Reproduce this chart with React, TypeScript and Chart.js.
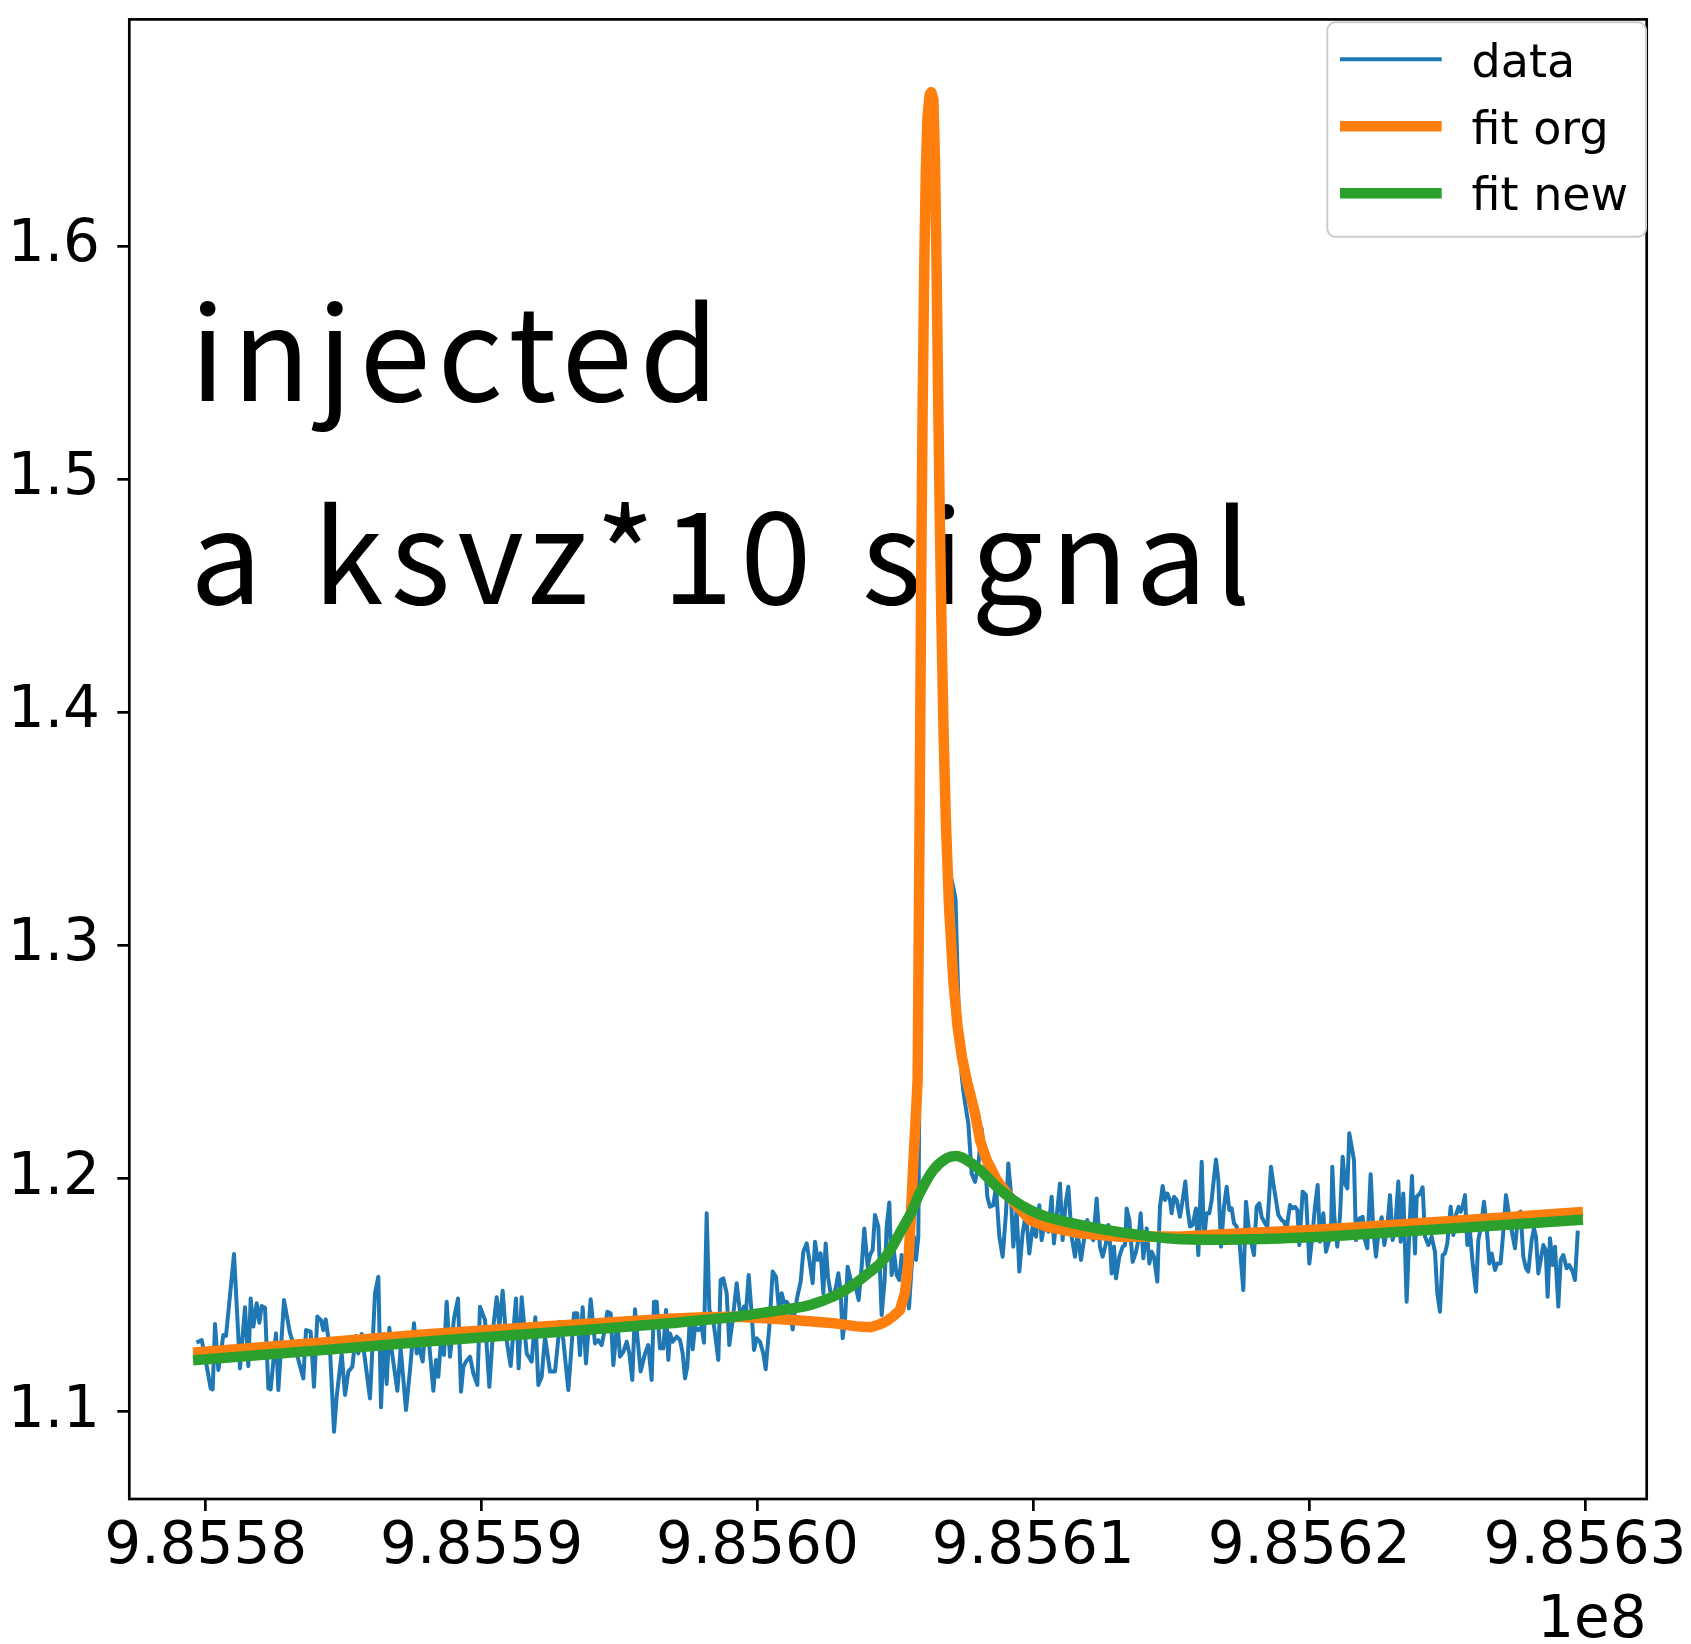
import React, { useEffect, useRef } from 'react';
import { Chart, registerables } from 'chart.js';

Chart.register(...registerables);

// frequency base (Hz); series x values are offsets from it
const F0 = 985580000;

const dataOffsetHz = [
  -270, -146, -25, 180, 253, 337, 458, 639, 736, 1026, 1243, 1425, 1546, 1630, 1727, 1848, 1944, 2029, 2150, 2271,
  2355, 2548, 2633, 2838, 3056, 3298, 3539, 3636, 3805, 3926, 4047, 4180, 4264, 4349, 4506, 4651, 4748, 4929, 5050, 5170,
  5315, 5436, 5533, 5654, 5956, 6137, 6258, 6355, 6464, 6560, 6657, 6741, 6947, 7068, 7261, 7406, 7551, 7648, 7744, 7865,
  7949, 8070,
  8131, 8252, 8348, 8433, 8554, 8638, 8735, 8856, 9001, 9146, 9255, 9339, 9436, 9581, 9702, 9847, 9943, 10125, 10282, 10427,
  10548, 10644, 10765, 10886, 11055, 11248, 11345, 11454, 11635, 11816, 11949, 12058, 12179, 12300, 12481, 12662, 12843, 12964, 13145, 13350,
  13471, 13568, 13665, 13786, 13955, 14112, 14233, 14354, 14438, 14559, 14680, 14777, 14922, 15018, 15139, 15260, 15357, 15465, 15562, 15647,
  15768, 15925, 16045, 16166, 16251, 16347, 16468, 16589, 16686, 16770,
  16831, 16928, 17073, 17193, 17290, 17375, 17459, 17556, 17653, 17737, 17858, 17979, 18063, 18160, 18257, 18377, 18462, 18583, 18667, 18764,
  18885, 18981, 19103, 19248, 19344, 19429, 19513, 19586, 19683, 19791, 19876, 19973, 20093, 20214, 20299, 20432, 20553, 20673, 20794, 20879,
  20963, 21060, 21157, 21278, 21362, 21447, 21568, 21664, 21785, 21882, 22003, 22087, 22184, 22293, 22389, 22474, 22558, 22655, 22752, 22848,
  22933, 23018, 23090, 23175, 23271, 23356, 23452, 23561, 23670, 23779, 23875, 23996, 24081, 24178, 24262, 24383,
  24503, 24612, 24685, 24781, 24866, 24950, 25047, 25144, 25228, 25313, 25410, 25494, 25591, 25675, 25748, 25833,
  25905, 26000, 26100, 26200, 26300, 26400, 26500, 26600, 26700, 26800, 26900, 27000, 27100, 27180, 27250, 27330, 27400, 27460, 27520,
  27645, 27766, 27887, 28008, 28129, 28249, 28334, 28430, 28551, 28648, 28769, 28890, 29010, 29095, 29180, 29276, 29397, 29494, 29615, 29735,
  29856, 29977, 30098, 30219, 30303, 30424, 30545, 30666, 30750, 30871, 30968, 31064, 31173, 31270, 31391, 31512, 31608, 31729, 31838, 31959,
  32079, 32176, 32297, 32418, 32515, 32635, 32720,
  32781, 32841, 32926, 32998, 33119, 33240, 33325, 33385, 33482, 33603, 33723, 33808, 33893, 33989, 34110, 34207, 34291, 34376, 34497, 34593,
  34690, 34775, 34859, 34956, 35016, 35101, 35198, 35318, 35415, 35512, 35584, 35681, 35778, 35898, 35983, 36104, 36188, 36285, 36382, 36466,
  36623, 36708, 36805, 36913, 37010, 37107, 37191, 37276, 37373, 37469, 37614, 37711, 37832, 38000, 38097, 38194, 38279, 38400, 38484, 38617,
  38702, 38798, 38883, 39004, 39088, 39185, 39306, 39402, 39487, 39572, 39644, 39765, 39886, 40007, 40103, 40212, 40309, 40393, 40514, 40611,
  40695, 40792, 40840, 40913, 41021, 41118, 41215, 41299, 41384, 41456,
  41626, 41698, 41819, 41940, 42025, 42109, 42230, 42327, 42423, 42508, 42629, 42726, 42834, 42931, 43028, 43112, 43233, 43318, 43414, 43535,
  43632, 43728, 43837, 43898, 44018, 44115, 44200, 44321, 44441, 44562, 44647, 44743, 44840, 44925, 45009, 45130, 45227, 45323, 45420, 45493,
  45565, 45650, 45734, 45831, 45928, 46049, 46133, 46230, 46338, 46435, 46532, 46616, 46737, 46822, 46942, 47039, 47136, 47220, 47341, 47462,
  47583, 47667, 47764, 47861, 47945, 48066, 48151, 48223, 48308, 48404, 48489, 48574, 48646, 48731, 48828, 48912, 49033, 49118, 49214, 49335,
  49432, 49553, 49637, 49736,
];

const dataValues = [
  1.1300, 1.1307, 1.1236, 1.1100, 1.1096, 1.1376, 1.1179, 1.1329, 1.1325, 1.1676, 1.1186, 1.1448, 1.1196, 1.1486, 1.1365, 1.1465, 1.1382, 1.1453, 1.1446, 1.1100,
  1.1096, 1.1336, 1.1093, 1.1479, 1.1336, 1.1250, 1.1143, 1.1350, 1.1343, 1.1107, 1.1408, 1.1393, 1.1350, 1.1396, 1.1265, 1.0914, 1.1065, 1.1250, 1.1072, 1.1172,
  1.1193, 1.1325, 1.1250, 1.1333, 1.1057, 1.1508, 1.1579, 1.1019, 1.1333, 1.1119, 1.1360, 1.1265, 1.1090, 1.1272, 1.1007, 1.1179, 1.1379, 1.1250, 1.1272, 1.1215,
  1.1343, 1.1336,
  1.1250, 1.1090, 1.1222, 1.1150, 1.1350, 1.1243, 1.1472, 1.1236, 1.1400, 1.1486, 1.1086, 1.1193, 1.1215, 1.1236, 1.1165, 1.1115, 1.1450, 1.1393, 1.1107, 1.1365,
  1.1491, 1.1365, 1.1519, 1.1322, 1.1196, 1.1486, 1.1186, 1.1491, 1.1250, 1.1215, 1.1405, 1.1115, 1.1150, 1.1322, 1.1172, 1.1172, 1.1386, 1.1307, 1.1093, 1.1422,
  1.1422, 1.1243, 1.1448, 1.1207, 1.1482, 1.1293, 1.1307, 1.1286, 1.1336, 1.1429, 1.1422, 1.1200, 1.1386, 1.1236, 1.1257, 1.1300, 1.1250, 1.1136, 1.1439, 1.1322,
  1.1172, 1.1250, 1.1286, 1.1136, 1.1472, 1.1472, 1.1272, 1.1272, 1.1436, 1.1222,
  1.1336, 1.1300, 1.1322, 1.1308, 1.1250, 1.1143, 1.1193, 1.1415, 1.1268, 1.1362, 1.1350, 1.1365, 1.1296, 1.1851, 1.1436, 1.1408, 1.1336, 1.1222, 1.1565, 1.1572,
  1.1508, 1.1286, 1.1393, 1.1551, 1.1451, 1.1393, 1.1451, 1.1429, 1.1586, 1.1422, 1.1265, 1.1315, 1.1300, 1.1250, 1.1182, 1.1365, 1.1601, 1.1579, 1.1422, 1.1508,
  1.1468, 1.1472, 1.1451, 1.1353, 1.1436, 1.1493, 1.1558, 1.1686, 1.1722, 1.1651, 1.1551, 1.1729, 1.1651, 1.1679, 1.1508, 1.1722, 1.1579, 1.1508, 1.1493, 1.1536,
  1.1594, 1.1515, 1.1315, 1.1393, 1.1622, 1.1579, 1.1529, 1.1536, 1.1479, 1.1622, 1.1786, 1.1622, 1.1672, 1.1694, 1.1844, 1.1794,
  1.1415, 1.1565, 1.1794, 1.1897, 1.1586, 1.1686, 1.1586, 1.1565, 1.1672, 1.1615, 1.1679, 1.1443, 1.1622, 1.1751, 1.1651, 1.1751,
  1.3000, 1.5400, 1.6300, 1.6600, 1.6620, 1.6550, 1.5850, 1.4900, 1.4200, 1.3650, 1.3400, 1.3300, 1.3250, 1.3200, 1.2900, 1.2600, 1.2450, 1.2380, 1.2330,
  1.2237, 1.2022, 1.1986, 1.2058, 1.2215, 1.2079, 1.1922, 1.1879, 1.1886, 1.1965, 1.1751, 1.1665, 1.1851, 1.2065, 1.1951, 1.1708, 1.1865, 1.1601, 1.1765, 1.1851,
  1.1679, 1.1794, 1.1751, 1.1886, 1.1736, 1.1822, 1.1772, 1.1922, 1.1722, 1.1865, 1.1979, 1.1736, 1.1894, 1.1965, 1.1751, 1.1665, 1.1765, 1.1651, 1.1736, 1.1822,
  1.1751, 1.1736, 1.1915, 1.1708, 1.1665, 1.1722, 1.1801,
  1.1722, 1.1593, 1.1708, 1.1572, 1.1665, 1.1708, 1.1715, 1.1872, 1.1822, 1.1643, 1.1686, 1.1736, 1.1851, 1.1658, 1.1786, 1.1636, 1.1686, 1.1665, 1.1558, 1.1879,
  1.1968, 1.1908, 1.1936, 1.1908, 1.1851, 1.1922, 1.1908, 1.1836, 1.1908, 1.1987, 1.1879, 1.1794, 1.1801, 1.1872, 1.1672, 1.2072, 1.1736, 1.1851, 1.1851, 1.1908,
  1.2082, 1.1994, 1.1708, 1.1879, 1.1965, 1.1865, 1.1872, 1.1808, 1.1794, 1.1736, 1.1522, 1.1901, 1.1765, 1.1672, 1.1879, 1.1894, 1.1836, 1.1808, 1.1794, 1.2051,
  1.1979, 1.1908, 1.1844, 1.1822, 1.1815, 1.1786, 1.1887, 1.1872, 1.1879, 1.1865, 1.1715, 1.1944, 1.1929, 1.1636, 1.1736, 1.1879, 1.1972, 1.1729, 1.1851, 1.1686,
  1.1722, 1.1765, 1.2051, 1.1836, 1.1708, 1.1836, 1.2094, 1.1979, 1.1958, 1.2194,
  1.2079, 1.1736, 1.1829, 1.1836, 1.1736, 1.1701, 1.2019, 1.1779, 1.1665, 1.1765, 1.1834, 1.1715, 1.1794, 1.1929, 1.1736, 1.1779, 1.1987, 1.1729, 1.1936, 1.1472,
  1.1772, 1.2011, 1.1679, 1.1922, 1.1936, 1.1962, 1.1751, 1.1715, 1.1751, 1.1686, 1.1508, 1.1429, 1.1672, 1.1679, 1.1722, 1.1879, 1.1758, 1.1844, 1.1879, 1.1858,
  1.1879, 1.1929, 1.1715, 1.1772, 1.1636, 1.1515, 1.1736, 1.1794, 1.1901, 1.1794, 1.1636, 1.1679, 1.1608, 1.1636, 1.1636, 1.1772, 1.1929, 1.1865, 1.1779, 1.1701,
  1.1851, 1.1858, 1.1665, 1.1615, 1.1601, 1.1736, 1.1786, 1.1751, 1.1593, 1.1658, 1.1715, 1.1694, 1.1493, 1.1744, 1.1629, 1.1708, 1.1451, 1.1651, 1.1672, 1.1615,
  1.1629, 1.1601, 1.1565, 1.1768,
];

const fitOrgOffsetHz = [
  -270, 4000, 8131, 12500, 16831, 18039, 19248, 20456, 21664, 22873, 23598, 24100, 24443, 24700, 24930, 25168, 25350, 25470,
  25555, 25651, 25748, 25808, 25868, 25908, 25948, 25988, 26046, 26104, 26162, 26242, 26300, 26379, 26437, 26495, 26553, 26611,
  26673, 26749, 26829, 26945, 27101, 27257, 27416, 27585, 27887, 28068, 28310, 28672, 29276, 29880, 30485, 31693, 33143, 35198,
  37614, 40031, 41481, 45700, 49736,
];
const fitOrgValues = [
  1.1255, 1.1295, 1.1333, 1.1368, 1.1399, 1.1405, 1.1407, 1.1400, 1.1390, 1.1378, 1.1366, 1.1362, 1.1375, 1.1390, 1.1410, 1.1436, 1.1510, 1.1640,
  1.1822, 1.2065, 1.2280, 1.2423, 1.3355, 1.4048, 1.4742, 1.5297, 1.5898, 1.6314, 1.6547, 1.6648, 1.6660, 1.6629, 1.6361, 1.5898, 1.5344, 1.4835,
  1.4372, 1.3910, 1.3540, 1.3169, 1.2850, 1.2650, 1.2520, 1.2423, 1.2280, 1.2165, 1.2079, 1.1994, 1.1901, 1.1822, 1.1794, 1.1765, 1.1750, 1.1751,
  1.1765, 1.1779, 1.1789, 1.1822, 1.1855,
];

const fitNewOffsetHz = [
  -270, 4000, 8131, 12500, 16831, 18039, 19248, 20456, 21664, 22268, 22873, 23477, 24081, 24443, 24800, 25200, 25600, 25893,
  26376, 26860, 27222, 27585, 28068, 28672, 29276, 29880, 30485, 31693, 33143, 35198, 37614, 40031, 41481, 45700, 49736,
];
const fitNewValues = [
  1.1222, 1.1262, 1.1302, 1.1340, 1.1379, 1.1393, 1.1408, 1.1429, 1.1451, 1.1472, 1.1501, 1.1544, 1.1600, 1.1635, 1.1690, 1.1775, 1.1860, 1.1940,
  1.2037, 1.2087, 1.2097, 1.2080, 1.2037, 1.1965, 1.1908, 1.1865, 1.1836, 1.1801, 1.1770, 1.1741, 1.1739, 1.1748, 1.1758, 1.1790, 1.1822,
];

const xTickValues = [985580000, 985590000, 985600000, 985610000, 985620000, 985630000];
const yTickValues = [1.1, 1.2, 1.3, 1.4, 1.5, 1.6];

const seriesLabels = ['data', 'fit org', 'fit new'];
const seriesColors = ['#1f77b4', '#ff7f0e', '#2ca02c'];
const annotationLines = ['injected', 'a ksvz*10 signal'];
const offsetLabel = '1e8';

const W = 1691;
const H = 1644;

const toPoints = (offs: number[], vals: number[]) => offs.map((o, i) => ({ x: F0 + o, y: vals[i] }));

const overlayPlugin = {
  id: 'overlay',
  beforeDatasetsDraw(chart: any) {
    const { ctx } = chart;
    ctx.save();
    ctx.fillStyle = '#000';
    ctx.font = '128px "Noto Sans CJK JP"';
    ctx.textAlign = 'left';
    ctx.textBaseline = 'alphabetic';
    try {
      (ctx as any).letterSpacing = '7px';
      (ctx as any).wordSpacing = '8px';
    } catch (e) {
      /* ignore */
    }
    ctx.fillText(annotationLines[0], 190, 401);
    ctx.fillText(annotationLines[1], 190, 604);
    ctx.restore();
  },
  afterDatasetsDraw(chart: any) {
    const { ctx, chartArea } = chart;
    ctx.save();
    ctx.strokeStyle = '#000';
    ctx.lineWidth = 2.7;
    ctx.strokeRect(chartArea.left, chartArea.top, chartArea.right - chartArea.left, chartArea.bottom - chartArea.top);
    ctx.restore();
  },
  afterDraw(chart: any) {
    const { ctx, chartArea } = chart;
    ctx.save();
    const bx = 1327.3, by = 22.3, bw = 318.7, bh = 214.4, r = 8;
    ctx.beginPath();
    ctx.moveTo(bx + r, by);
    ctx.lineTo(bx + bw - r, by);
    ctx.arcTo(bx + bw, by, bx + bw, by + r, r);
    ctx.lineTo(bx + bw, by + bh - r);
    ctx.arcTo(bx + bw, by + bh, bx + bw - r, by + bh, r);
    ctx.lineTo(bx + r, by + bh);
    ctx.arcTo(bx, by + bh, bx, by + bh - r, r);
    ctx.lineTo(bx, by + r);
    ctx.arcTo(bx, by, bx + r, by, r);
    ctx.closePath();
    ctx.fillStyle = 'rgba(255,255,255,0.8)';
    ctx.fill();
    ctx.strokeStyle = '#cccccc';
    ctx.lineWidth = 2;
    ctx.stroke();
    const widths = [4, 10.5, 10.5];
    const lineYs = [59.3, 126.3, 193.3];
    const textYs = [76.7, 143.5, 210.3];
    ctx.font = '46px "DejaVu Sans"';
    ctx.textAlign = 'left';
    ctx.textBaseline = 'alphabetic';
    for (let i = 0; i < seriesLabels.length; i++) {
      ctx.beginPath();
      ctx.strokeStyle = seriesColors[i];
      ctx.lineWidth = widths[i];
      ctx.lineCap = 'butt';
      ctx.moveTo(1340, lineYs[i]);
      ctx.lineTo(1441.7, lineYs[i]);
      ctx.stroke();
      ctx.fillStyle = '#000';
      ctx.fillText(seriesLabels[i], 1471.5, textYs[i]);
    }
    ctx.font = '58px "DejaVu Sans"';
    ctx.textAlign = 'right';
    ctx.fillStyle = '#000';
    ctx.fillText(offsetLabel, chartArea.right, 1636.7);
    ctx.restore();
  },
};

export default function App() {
  const canvasRef = useRef<HTMLCanvasElement | null>(null);

  useEffect(() => {
    const canvas = canvasRef.current;
    if (!canvas) return;
    const chart = new Chart(canvas, {
      type: 'line',
      data: {
        datasets: [
          {
            label: seriesLabels[0],
            data: toPoints(dataOffsetHz, dataValues),
            borderColor: seriesColors[0],
            backgroundColor: seriesColors[0],
            borderWidth: 4,
            pointRadius: 0,
            tension: 0,
            order: 3,
            borderJoinStyle: 'round',
            borderCapStyle: 'square',
          },
          {
            label: seriesLabels[1],
            data: toPoints(fitOrgOffsetHz, fitOrgValues),
            borderColor: seriesColors[1],
            backgroundColor: seriesColors[1],
            borderWidth: 10.5,
            pointRadius: 0,
            tension: 0,
            order: 2,
            borderJoinStyle: 'round',
            borderCapStyle: 'square',
          },
          {
            label: seriesLabels[2],
            data: toPoints(fitNewOffsetHz, fitNewValues),
            borderColor: seriesColors[2],
            backgroundColor: seriesColors[2],
            borderWidth: 10.5,
            pointRadius: 0,
            tension: 0.3,
            order: 1,
            borderJoinStyle: 'round',
            borderCapStyle: 'square',
          },
        ],
      } as any,
      options: {
        animation: false,
        responsive: false,
        devicePixelRatio: 1,
        layout: { padding: { left: 0, right: 44.3, top: 19.4, bottom: 0 } },
        plugins: { legend: { display: false }, tooltip: { enabled: false } },
        scales: {
          x: {
            type: 'linear',
            min: 985577230,
            max: 985632237,
            afterBuildTicks: (scale: any) => {
              scale.ticks = xTickValues.map((v) => ({ value: v }));
            },
            afterFit: (scale: any) => {
              scale.height = H - 1499;
              scale.paddingLeft = 0;
              scale.paddingRight = 0;
              scale.paddingTop = 0;
              scale.paddingBottom = 0;
            },
            ticks: {
              autoSkip: false,
              maxRotation: 0,
              minRotation: 0,
              padding: 2,
              color: '#000',
              font: { family: 'DejaVu Sans', size: 58 },
              callback: (v: any) => (Number(v) / 1e8).toFixed(4),
            },
            grid: { display: true, drawOnChartArea: false, drawTicks: true, tickLength: 12, lineWidth: 2.7, color: '#000' },
            border: { display: false },
          },
          y: {
            type: 'linear',
            min: 1.06256,
            max: 1.6972,
            afterBuildTicks: (scale: any) => {
              scale.ticks = yTickValues.map((v) => ({ value: v }));
            },
            afterFit: (scale: any) => {
              scale.width = 129.3;
              scale.paddingLeft = 0;
              scale.paddingRight = 0;
              scale.paddingTop = 0;
              scale.paddingBottom = 0;
            },
            ticks: {
              autoSkip: false,
              padding: 17.3,
              color: '#000',
              font: { family: 'DejaVu Sans', size: 58 },
              callback: (v: any) => Number(v).toFixed(1),
            },
            grid: { display: true, drawOnChartArea: false, drawTicks: true, tickLength: 12, lineWidth: 2.7, color: '#000' },
            border: { display: false },
          },
        },
      } as any,
      plugins: [overlayPlugin],
    });
    return () => chart.destroy();
  }, []);

  return (
    <div style={{ position: 'absolute', left: 0, top: 0, width: W, height: H, background: '#fff' }}>
      <canvas ref={canvasRef} width={W} height={H} style={{ display: 'block', width: W, height: H }} />
    </div>
  );
}
